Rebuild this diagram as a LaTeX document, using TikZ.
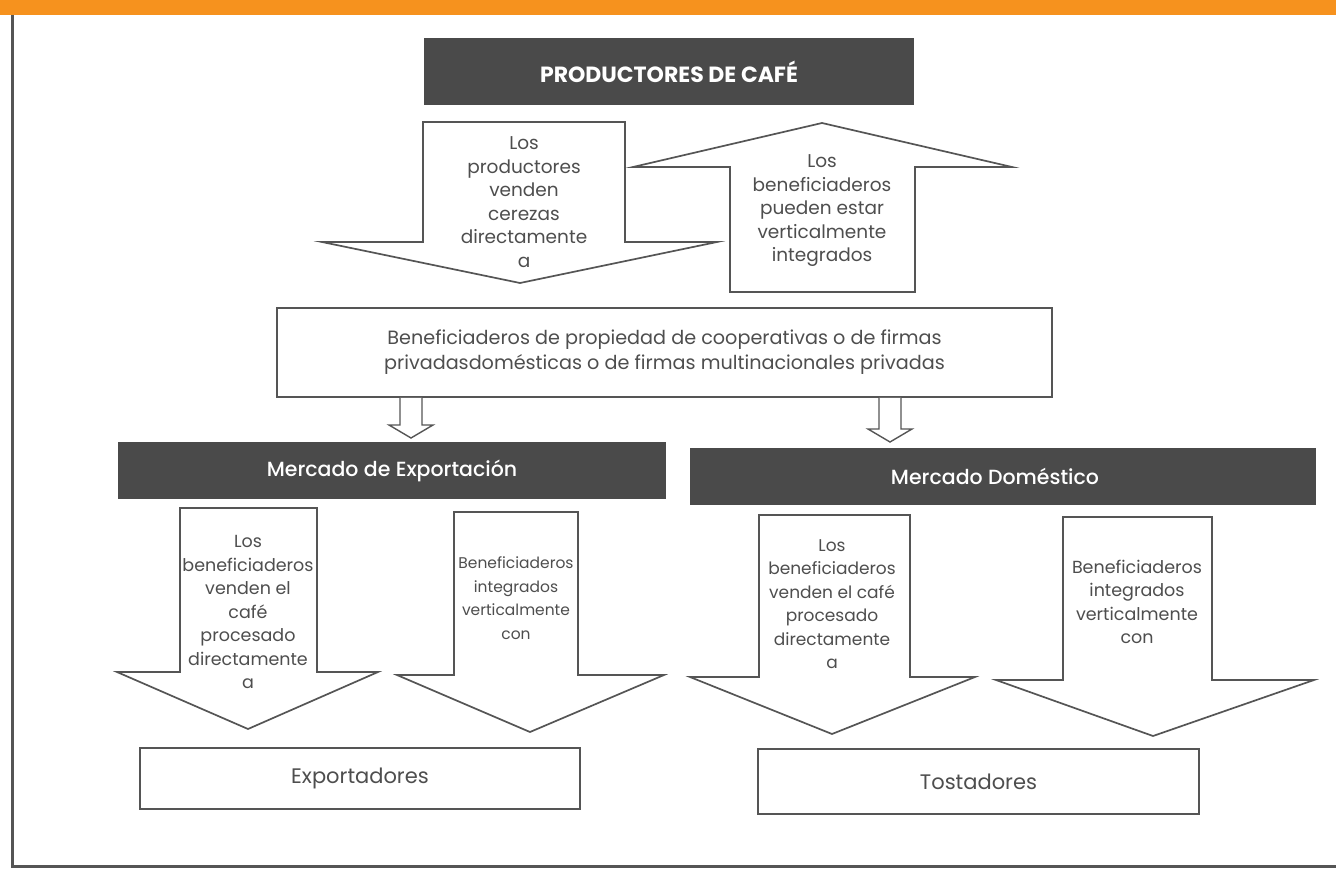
\documentclass[tikz,border=0pt]{standalone}
\usepackage{fontspec}
\setmainfont{Poppins}
\newfontfamily\medfont{Poppins}[UprightFont=* Medium]
\usetikzlibrary{calc}
\definecolor{band}{RGB}{246,146,30}
\definecolor{ink}{RGB}{85,85,85}
\definecolor{hdr}{RGB}{74,74,74}
\definecolor{txt}{RGB}{78,78,78}

% block arrow pointing down: shaft left/right, top, shoulder, head left/right, tip x/y
\newcommand{\blockdown}[8]{%
  \draw[outline] (#1,#3) -- (#2,#3) -- (#2,#4) -- (#6,#4) -- (#7,#8)
    -- (#5,#4) -- (#1,#4) -- cycle;}

\begin{document}
\begin{tikzpicture}[x=1pt,y=-1pt,
  outline/.style={draw=ink, line width=1.7pt, line join=miter, fill=white},
  header/.style={fill=hdr, draw=none, text=white,
    font=\medfont\fontsize{20.5}{24}\selectfont},
  plainbox/.style={draw=ink, line width=1.7pt, fill=white, text=txt,
    align=center, inner sep=0pt},
  btext/.style={text=txt, align=center, inner sep=0pt,
    font=\fontsize{17.5}{23.5}\selectfont},
]
\useasboundingbox (0,0) rectangle (1336,878);

% page band and frame
\fill[band] (0,0) rectangle (1336,15);
\draw[ink, line width=3pt] (12,15) -- (12,866) -- (1336,866);

% top header
\node[header, font=\bfseries\fontsize{22}{24}\selectfont,
  minimum width=490pt, minimum height=67pt] (prod) at (669,71.5)
  {PRODUCTORES DE CAFÉ};

% arrows between producers and mills
\blockdown{423}{625}{122}{242}{322}{717}{520}{283}
\node[btext, font=\fontsize{18.5}{23.5}\selectfont] (dtxt) at (524,202)
  {Los\\productores\\venden\\cerezas\\directamente\\a};

\draw[outline] (730,292) -- (730,167) -- (633,167) -- (822,123)
  -- (1012,167) -- (915,167) -- (915,292) -- cycle;
\node[btext, font=\fontsize{18.5}{23.5}\selectfont] (utxt) at (822,211)
  {Los\\beneficiaderos\\pueden estar\\verticalmente\\integrados};

% mills
\node[plainbox, minimum width=775pt, minimum height=89pt,
  font=\fontsize{19.2}{25}\selectfont] (mid) at (664.5,352.5)
  {Beneficiaderos de propiedad de cooperativas o de firmas\\
   privadasdomésticas o de firmas multinacionales privadas};

% market headers
\node[header, minimum width=548pt, minimum height=57pt] (exp) at (392,470.5)
  {Mercado de Exportación};
\node[header, minimum width=626pt, minimum height=57pt] (dom) at (1003,476.5)
  {\hspace*{-16pt}Mercado Doméstico};

% small arrows from mills to markets
\draw[ink, line width=1.4pt, fill=white] (400,0 |- mid.south) -- (400,425)
  -- (389,425) -- (411,438) -- (433,425) -- (422,425) -- (422,0 |- mid.south);
\draw[ink, line width=1.4pt, fill=white] (879,0 |- mid.south) -- (879,429)
  -- (868,429) -- (890,442) -- (912,429) -- (901,429) -- (901,0 |- mid.south);

% export market arrows
\blockdown{180}{317}{508}{672}{117}{378}{248}{729}
\node[btext] (a1) at (248,612)
  {Los\\beneficiaderos\\venden el\\café\\procesado\\directamente\\a};
\blockdown{454}{578}{512}{675}{397}{664}{530}{732}
\node[btext, font=\fontsize{15.5}{23.5}\selectfont] (a2) at (516,598)
  {Beneficiaderos\\integrados\\verticalmente\\con};

% domestic market arrows
\blockdown{759}{910}{515}{677}{690}{975}{832}{734}
\node[btext, font=\fontsize{17}{23.5}\selectfont] (b1) at (832,604)
  {Los\\beneficiaderos\\venden el café\\procesado\\directamente\\a};
\blockdown{1063}{1212}{517}{680}{996}{1314}{1153}{736}
\node[btext] (b2) at (1137,602)
  {Beneficiaderos\\integrados\\verticalmente\\con};

% final buyers
\node[plainbox, minimum width=440pt, minimum height=61pt,
  font=\fontsize{21}{24}\selectfont] (expo) at (360,778.5) {Exportadores};
\node[plainbox, minimum width=441pt, minimum height=65pt,
  font=\fontsize{21}{24}\selectfont] (tost) at (978.5,781.5) {Tostadores};
\end{tikzpicture}
\end{document}
